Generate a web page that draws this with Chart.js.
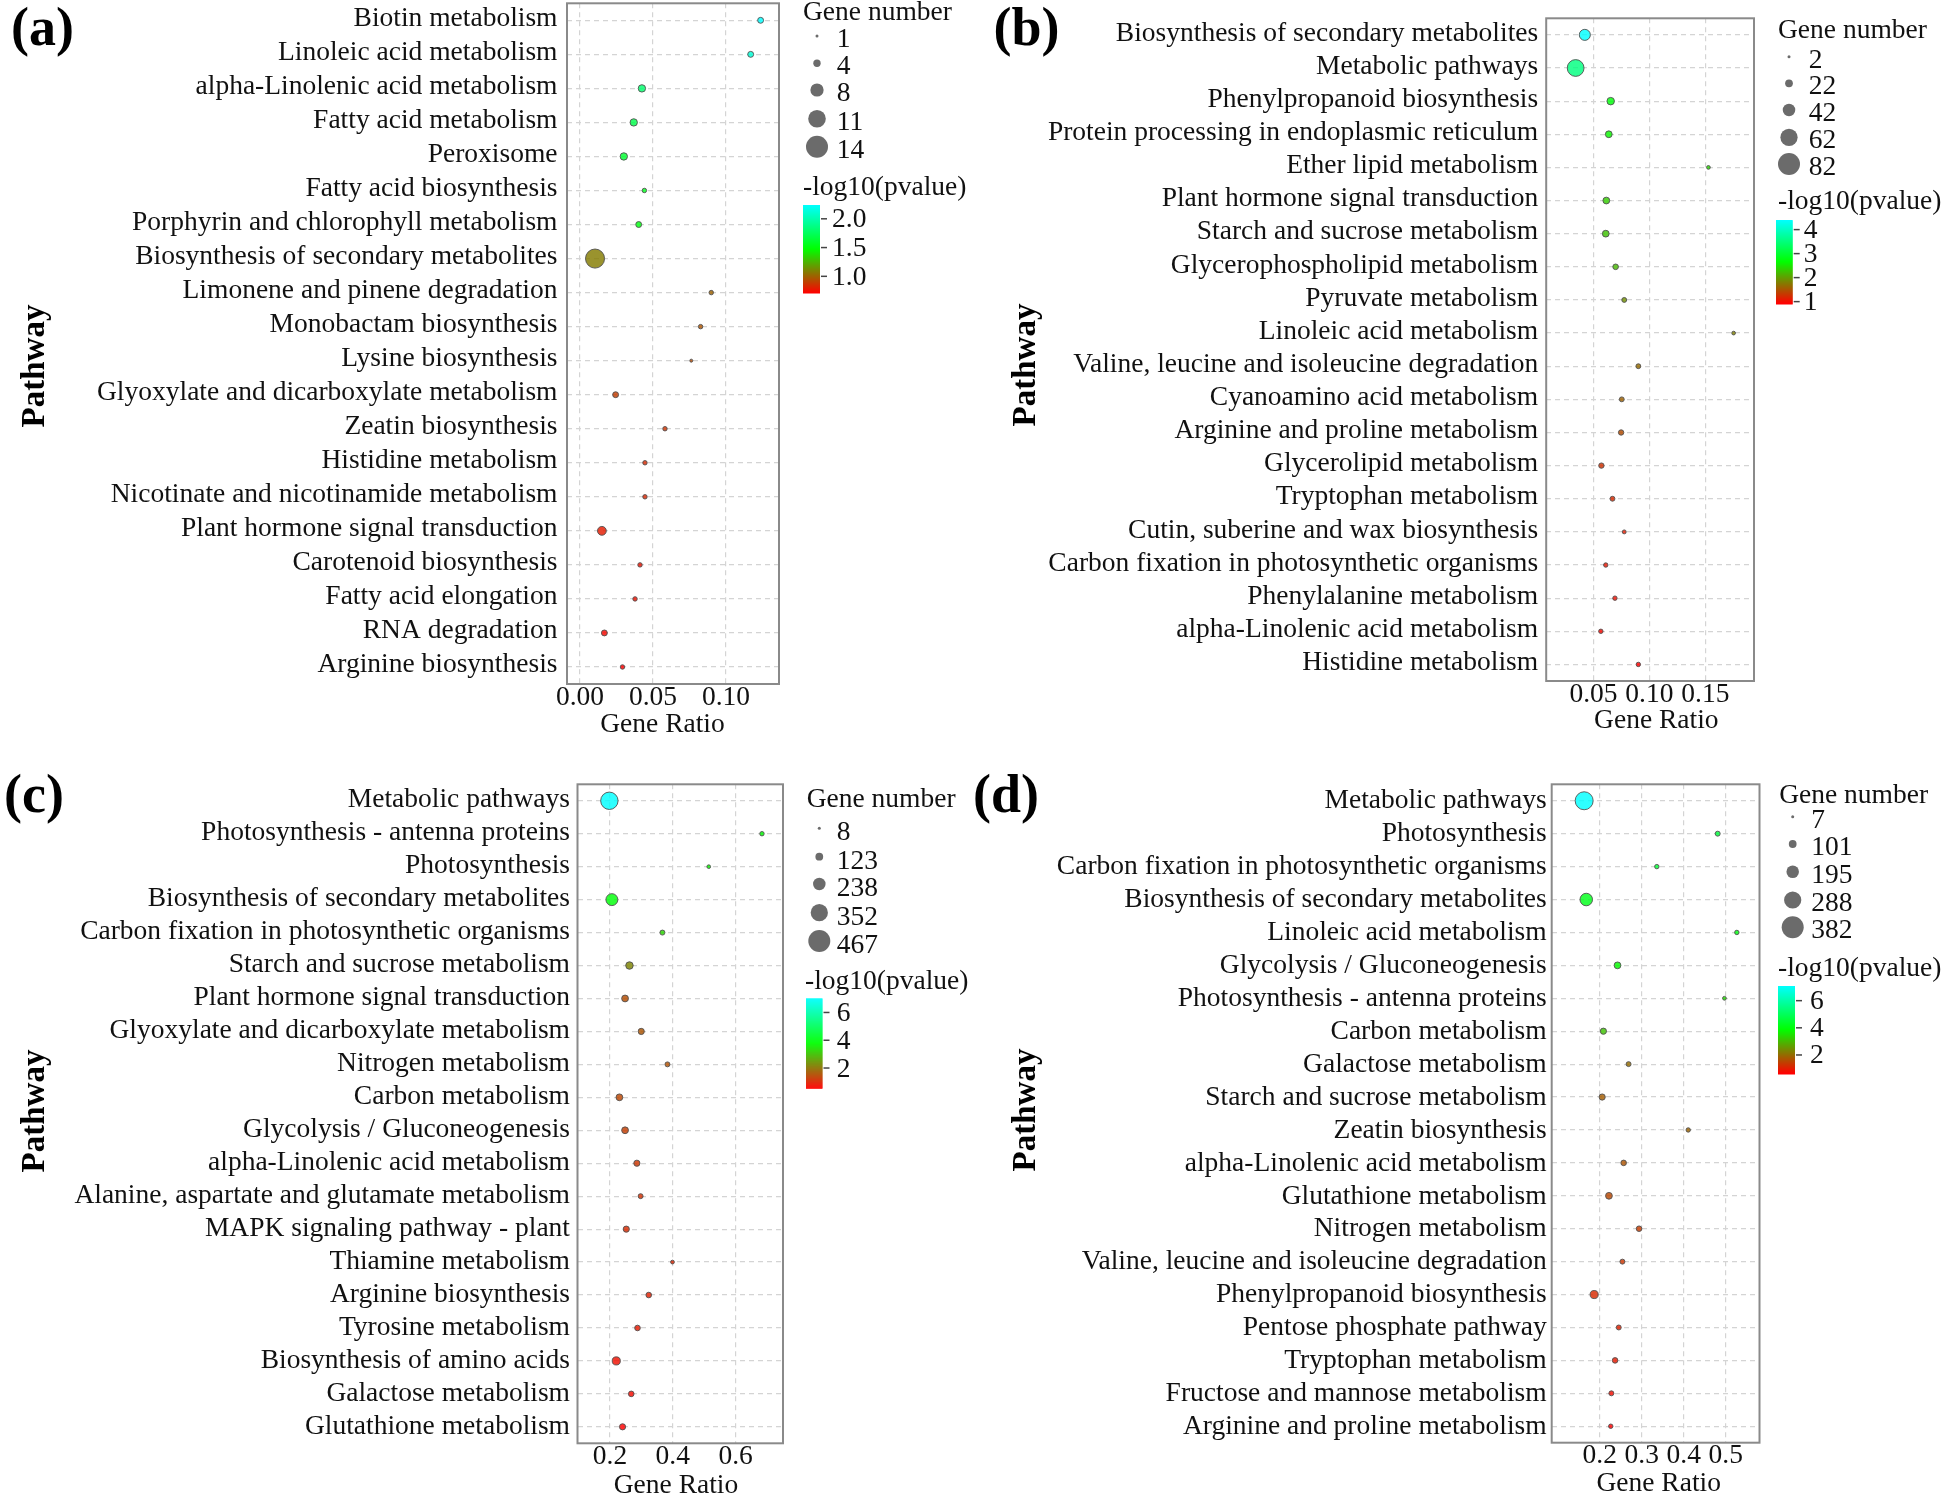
<!DOCTYPE html>
<html>
<head>
<meta charset="utf-8">
<title>KEGG enrichment bubble charts</title>
<script src="https://cdn.jsdelivr.net/npm/chart.js@4.4.1/dist/chart.umd.min.js"></script>
<style>
  body { margin: 0; background: #fff; width: 1944px; height: 1498px; position: relative; overflow: hidden; }
  .panel { position: absolute; width: 972px; height: 749px; }
</style>
</head>
<body>
<div class="panel" style="left:0;top:0"><canvas id="chartA" width="972" height="749"></canvas></div>
<div class="panel" style="left:972px;top:0"><canvas id="chartB" width="972" height="749"></canvas></div>
<div class="panel" style="left:0;top:749px"><canvas id="chartC" width="972" height="749"></canvas></div>
<div class="panel" style="left:972px;top:749px"><canvas id="chartD" width="972" height="749"></canvas></div>

<script>
// ---- Data ----

// (a)
const pathwaysA = ['Biotin metabolism', 'Linoleic acid metabolism', 'alpha-Linolenic acid metabolism', 'Fatty acid metabolism',
  'Peroxisome', 'Fatty acid biosynthesis', 'Porphyrin and chlorophyll metabolism', 'Biosynthesis of secondary metabolites',
  'Limonene and pinene degradation', 'Monobactam biosynthesis', 'Lysine biosynthesis', 'Glyoxylate and dicarboxylate metabolism',
  'Zeatin biosynthesis', 'Histidine metabolism', 'Nicotinate and nicotinamide metabolism', 'Plant hormone signal transduction',
  'Carotenoid biosynthesis', 'Fatty acid elongation', 'RNA degradation', 'Arginine biosynthesis'];
const ratioA = [0.1237, 0.1169, 0.0424, 0.0368, 0.0300, 0.0441, 0.0402, 0.0103, 0.0899, 0.0826,
  0.0762, 0.0244, 0.0582, 0.0445, 0.0445, 0.0150, 0.0411, 0.0377, 0.0167, 0.0291];
const genesA = [3, 3, 4, 4, 4, 2, 3, 12, 2, 2, 1, 3, 2, 2, 2, 5, 2, 2, 3, 2];
const logPA = [2.24, 2.12, 1.80, 1.70, 1.62, 1.56, 1.52, 1.08, 1.00, 0.96,
  0.93, 0.89, 0.86, 0.83, 0.82, 0.79, 0.77, 0.76, 0.73, 0.71];
const sizeBreaksA = [1, 4, 8, 11, 14];
const xLimitsA = [-0.0089, 0.1363];
const xTicksA = [0, 0.05, 0.10];
const xTickTextA = ['0.00', '0.05', '0.10'];
const colourTicksA = [2.0, 1.5, 1.0];
const colourTickTextA = ['2.0', '1.5', '1.0'];

// (b)
const pathwaysB = ['Biosynthesis of secondary metabolites', 'Metabolic pathways', 'Phenylpropanoid biosynthesis',
  'Protein processing in endoplasmic reticulum', 'Ether lipid metabolism', 'Plant hormone signal transduction',
  'Starch and sucrose metabolism', 'Glycerophospholipid metabolism', 'Pyruvate metabolism', 'Linoleic acid metabolism',
  'Valine, leucine and isoleucine degradation', 'Cyanoamino acid metabolism', 'Arginine and proline metabolism',
  'Glycerolipid metabolism', 'Tryptophan metabolism', 'Cutin, suberine and wax biosynthesis',
  'Carbon fixation in photosynthetic organisms', 'Phenylalanine metabolism', 'alpha-Linolenic acid metabolism',
  'Histidine metabolism'];
const ratioB = [0.0423, 0.0341, 0.0654, 0.0637, 0.1527, 0.0615, 0.0610, 0.0698, 0.0775, 0.1752,
  0.0901, 0.0753, 0.0747, 0.0571, 0.0670, 0.0775, 0.0610, 0.0692, 0.0566, 0.0901];
const genesB = [36, 60, 21, 18, 5, 18, 18, 13, 10, 5, 10, 10, 12, 12, 10, 6, 8, 8, 8, 8];
const logPB = [4.40, 3.53, 2.73, 2.60, 2.39, 2.32, 2.25, 2.18, 1.90, 1.80,
  1.65, 1.58, 1.45, 1.25, 1.20, 1.12, 1.07, 1.03, 0.98, 0.93];
const sizeBreaksB = [2, 22, 42, 62, 82];
const xLimitsB = [0.0078, 0.1934];
const xTicksB = [0.05, 0.10, 0.15];
const xTickTextB = ['0.05', '0.10', '0.15'];
const colourTicksB = [4, 3, 2, 1];
const colourTickTextB = ['4', '3', '2', '1'];

// (c)
const pathwaysC = ['Metabolic pathways', 'Photosynthesis - antenna proteins', 'Photosynthesis',
  'Biosynthesis of secondary metabolites', 'Carbon fixation in photosynthetic organisms', 'Starch and sucrose metabolism',
  'Plant hormone signal transduction', 'Glyoxylate and dicarboxylate metabolism', 'Nitrogen metabolism', 'Carbon metabolism',
  'Glycolysis / Gluconeogenesis', 'alpha-Linolenic acid metabolism', 'Alanine, aspartate and glutamate metabolism',
  'MAPK signaling pathway - plant', 'Thiamine metabolism', 'Arginine biosynthesis', 'Tyrosine metabolism',
  'Biosynthesis of amino acids', 'Galactose metabolism', 'Glutathione metabolism'];
const ratioC = [0.198, 0.684, 0.5145, 0.206, 0.367, 0.262, 0.248, 0.2995, 0.383, 0.230,
  0.248, 0.2856, 0.2975, 0.2518, 0.399, 0.3234, 0.2876, 0.220, 0.2677, 0.240];
const genesC = [356, 42, 24, 224, 56, 117, 100, 85, 56, 100, 100, 85, 56, 85, 27, 71, 71, 132, 71, 85];
const logPC = [7.02, 3.78, 3.65, 3.90, 3.26, 2.20, 1.50, 1.60, 1.55, 1.40,
  1.30, 1.20, 1.12, 1.05, 1.00, 0.93, 0.86, 0.73, 0.67, 0.54];
const sizeBreaksC = [8, 123, 238, 352, 467];
const xLimitsC = [0.0965, 0.751];
const xTicksC = [0.2, 0.4, 0.6];
const xTickTextC = ['0.2', '0.4', '0.6'];
const colourTicksC = [6, 4, 2];
const colourTickTextC = ['6', '4', '2'];

// (d)
const pathwaysD = ['Metabolic pathways', 'Photosynthesis', 'Carbon fixation in photosynthetic organisms',
  'Biosynthesis of secondary metabolites', 'Linoleic acid metabolism', 'Glycolysis / Gluconeogenesis',
  'Photosynthesis - antenna proteins', 'Carbon metabolism', 'Galactose metabolism', 'Starch and sucrose metabolism',
  'Zeatin biosynthesis', 'alpha-Linolenic acid metabolism', 'Glutathione metabolism', 'Nitrogen metabolism',
  'Valine, leucine and isoleucine degradation', 'Phenylpropanoid biosynthesis', 'Pentose phosphate pathway',
  'Tryptophan metabolism', 'Fructose and mannose metabolism', 'Arginine and proline metabolism'];
const ratioD = [0.163, 0.481, 0.336, 0.168, 0.5265, 0.2424, 0.497, 0.2088, 0.2688, 0.2059,
  0.4108, 0.257, 0.222, 0.2937, 0.2541, 0.1868, 0.2454, 0.2366, 0.2278, 0.2263];
const genesD = [303, 46, 35, 195, 35, 82, 22, 70, 46, 70, 35, 58, 82, 58, 46, 108, 46, 58, 46, 35];
const logPD = [7.08, 4.64, 4.51, 4.19, 4.06, 3.80, 3.40, 3.10, 2.00, 1.80,
  1.90, 1.70, 1.55, 1.40, 1.30, 1.15, 1.05, 0.95, 0.82, 0.65];
const sizeBreaksD = [7, 101, 195, 288, 382];
const xLimitsD = [0.0857, 0.5805];
const xTicksD = [0.2, 0.3, 0.4, 0.5];
const xTickTextD = ['0.2', '0.3', '0.4', '0.5'];
const colourTicksD = [6, 4, 2];
const colourTickTextD = ['6', '4', '2'];

// ---- Styling ----
const SERIF = "'Liberation Serif', 'Times New Roman', serif";
const FONT_SIZE = 27.5;
const TEXT = '#111';
const GRID = '#d4d4d4';

// Gene number -> radius (px), linear between the smallest and largest legend break
function radiusFor(v, breaks) {
  const lo = breaks[0], hi = breaks[breaks.length - 1];
  return 1.5 + 9.5 * (v - lo) / (hi - lo);
}

// -log10(p) -> red / green / cyan gradient
function colourFor(v, lo, hi, alpha = 1) {
  const t = Math.max(0, Math.min(1, (v - lo) / (hi - lo)));
  let r, g, b;
  if (t < 0.5) { const u = t / 0.5; r = 255 * (1 - u); g = 255 * u; b = 0; }
  else { const u = (t - 0.5) / 0.5; r = 0; g = 255; b = 255 * u; }
  return `rgba(${Math.round(r)},${Math.round(g)},${Math.round(b)},${alpha})`;
}

// Extra drawing: panel border, letters, axis titles, legends
function extrasPlugin(p) {
  return {
    id: 'extras' + p.letter,
    afterDraw(chart) {
      const ctx = chart.ctx, a = chart.chartArea;
      ctx.save();
      ctx.strokeStyle = '#8a8a8a';
      ctx.lineWidth = 2;
      ctx.strokeRect(a.left, a.top, a.right - a.left, a.bottom - a.top);

      ctx.fillStyle = '#000';
      ctx.textBaseline = 'alphabetic';
      ctx.textAlign = 'left';
      ctx.font = `bold 54px ${SERIF}`;
      ctx.fillText(p.letter, p.letterPos[0], p.letterPos[1]);

      ctx.save();
      ctx.translate(p.yTitle[0], p.yTitle[1]);
      ctx.rotate(-Math.PI / 2);
      ctx.textAlign = 'center';
      ctx.font = `bold 33px ${SERIF}`;
      ctx.fillText('Pathway', 0, 0);
      ctx.restore();

      ctx.font = `${FONT_SIZE}px ${SERIF}`;
      ctx.fillStyle = TEXT;
      ctx.textAlign = 'center';
      ctx.fillText('Gene Ratio', p.xTitle[0], p.xTitle[1]);

      // size legend
      ctx.textAlign = 'left';
      ctx.fillText('Gene number', p.gn.x, p.gn.base);
      p.sizeBreaks.forEach((v, i) => {
        ctx.beginPath();
        ctx.arc(p.gn.cx, p.gn.ys[i], radiusFor(v, p.sizeBreaks), 0, 2 * Math.PI);
        ctx.fillStyle = '#6b6b6b';
        ctx.fill();
        ctx.fillStyle = TEXT;
        ctx.fillText(String(v), p.gn.lx, p.gn.ys[i] + p.gn.lOff);
      });

      // colour bar
      ctx.fillText('-log10(pvalue)', p.pv.x, p.pv.base);
      const lo = Math.min(...p.logP), hi = Math.max(...p.logP);
      const [bx, by, bw, bh] = p.pv.bar;
      for (let k = 0; k < bh; k++) {
        ctx.fillStyle = colourFor(hi - (k + 0.5) / bh * (hi - lo), lo, hi);
        ctx.fillRect(bx, by + k, bw, 1.5);
      }
      p.colourTicks.forEach((v, i) => {
        const ty = by + (hi - v) / (hi - lo) * bh;
        ctx.strokeStyle = '#444';
        ctx.lineWidth = 1.5;
        ctx.beginPath();
        ctx.moveTo(bx + bw + 1, ty);
        ctx.lineTo(bx + bw + 7, ty);
        ctx.stroke();
        ctx.fillStyle = TEXT;
        ctx.fillText(p.colourTickText[i], p.pv.lx, ty + 8.5);
      });
      ctx.restore();
    }
  };
}

function buildPanel(id, p) {
  const canvas = document.getElementById(id);
  const W = canvas.width, H = canvas.height;
  const lo = Math.min(...p.logP), hi = Math.max(...p.logP);
  const points = p.pathways.map((name, i) => ({ x: p.ratio[i], y: name, r: radiusFor(p.genes[i], p.sizeBreaks) }));

  return new Chart(canvas, {
    type: 'bubble',
    data: {
      datasets: [{
        data: points,
        backgroundColor: p.logP.map(v => colourFor(v, lo, hi, 0.82)),
        borderColor: '#505050',
        borderWidth: 0.9
      }]
    },
    options: {
      responsive: false,
      animation: false,
      layout: {
        autoPadding: false,
        padding: { left: 0, top: p.plot.top, right: W - p.plot.right, bottom: 0 }
      },
      plugins: { legend: { display: false }, tooltip: { enabled: false } },
      scales: {
        x: {
          type: 'linear',
          min: p.xLimits[0],
          max: p.xLimits[1],
          afterBuildTicks: s => { s.ticks = p.xTicks.map(v => ({ value: v })); },
          afterFit: s => { s.height = H - p.plot.bottom; s.paddingLeft = 0; s.paddingRight = 0; },
          ticks: {
            autoSkip: false, maxRotation: 0, padding: -3,
            color: TEXT, font: { family: SERIF, size: FONT_SIZE },
            callback: (v, i) => p.xTickText[i]
          },
          grid: { color: GRID, lineWidth: 1.2, drawTicks: false },
          border: { display: false, dash: [5, 4] }
        },
        y: {
          type: 'category',
          labels: p.pathways,
          offset: true,
          afterFit: s => { s.width = p.plot.left; s.paddingTop = 0; s.paddingBottom = 0; },
          ticks: {
            autoSkip: false, padding: p.labelGap, labelOffset: p.labelShift,
            color: TEXT, font: { family: SERIF, size: FONT_SIZE }
          },
          grid: { color: GRID, lineWidth: 1.2, drawTicks: false, offset: false },
          border: { display: false, dash: [5, 4] }
        }
      }
    },
    plugins: [extrasPlugin(p)]
  });
}

buildPanel('chartA', {
  letter: '(a)', pathways: pathwaysA, ratio: ratioA, genes: genesA, logP: logPA,
  sizeBreaks: sizeBreaksA, xLimits: xLimitsA, xTicks: xTicksA, xTickText: xTickTextA,
  colourTicks: colourTicksA, colourTickText: colourTickTextA,
  plot: { left: 567, right: 779, top: 3.3, bottom: 684 }, labelGap: 9.5, labelShift: -2,
  letterPos: [11, 45], yTitle: [44, 366], xTitle: [662.5, 732],
  gn: { x: 803, base: 19.5, cx: 817, ys: [36, 63.3, 90, 118.7, 146.7], lx: 836.7, lOff: 11 },
  pv: { x: 803, base: 195, bar: [803, 205, 17, 88], lx: 832 }
});

buildPanel('chartB', {
  letter: '(b)', pathways: pathwaysB, ratio: ratioB, genes: genesB, logP: logPB,
  sizeBreaks: sizeBreaksB, xLimits: xLimitsB, xTicks: xTicksB, xTickText: xTickTextB,
  colourTicks: colourTicksB, colourTickText: colourTickTextB,
  plot: { left: 574.2, right: 782, top: 18.3, bottom: 681 }, labelGap: 8, labelShift: -1.5,
  letterPos: [21.5, 45], yTitle: [62.5, 365], xTitle: [684.3, 728],
  gn: { x: 806, base: 37.5, cx: 817, ys: [56.7, 83.3, 110, 137.3, 164], lx: 836.7, lOff: 11 },
  pv: { x: 806, base: 209, bar: [804, 220, 16.7, 83.3], lx: 831.8 }
});

buildPanel('chartC', {
  letter: '(c)', pathways: pathwaysC, ratio: ratioC, genes: genesC, logP: logPC,
  sizeBreaks: sizeBreaksC, xLimits: xLimitsC, xTicks: xTicksC, xTickText: xTickTextC,
  colourTicks: colourTicksC, colourTickText: colourTickTextC,
  plot: { left: 577.5, right: 783, top: 35.3, bottom: 694.3 }, labelGap: 7.5, labelShift: -0.5,
  letterPos: [4, 63], yTitle: [44, 362], xTitle: [676, 744],
  gn: { x: 806.7, base: 57.7, cx: 819.3, ys: [79.3, 107.7, 135, 163.7, 192], lx: 836.7, lOff: 12 },
  pv: { x: 805, base: 240, bar: [806, 249.3, 16.5, 90], lx: 836.7 }
});

buildPanel('chartD', {
  letter: '(d)', pathways: pathwaysD, ratio: ratioD, genes: genesD, logP: logPD,
  sizeBreaks: sizeBreaksD, xLimits: xLimitsD, xTicks: xTicksD, xTickText: xTickTextD,
  colourTicks: colourTicksD, colourTickText: colourTickTextD,
  plot: { left: 579.7, right: 787.5, top: 35.3, bottom: 693.7 }, labelGap: 5, labelShift: 0.5,
  letterPos: [1, 63], yTitle: [62.5, 361], xTitle: [686.7, 741.7],
  gn: { x: 807.2, base: 54, cx: 820.7, ys: [67.7, 95, 122.7, 151, 178.3], lx: 839.2, lOff: 11 },
  pv: { x: 806, base: 227, bar: [806, 237, 17, 87.3], lx: 838 }
});
</script>
</body>
</html>
